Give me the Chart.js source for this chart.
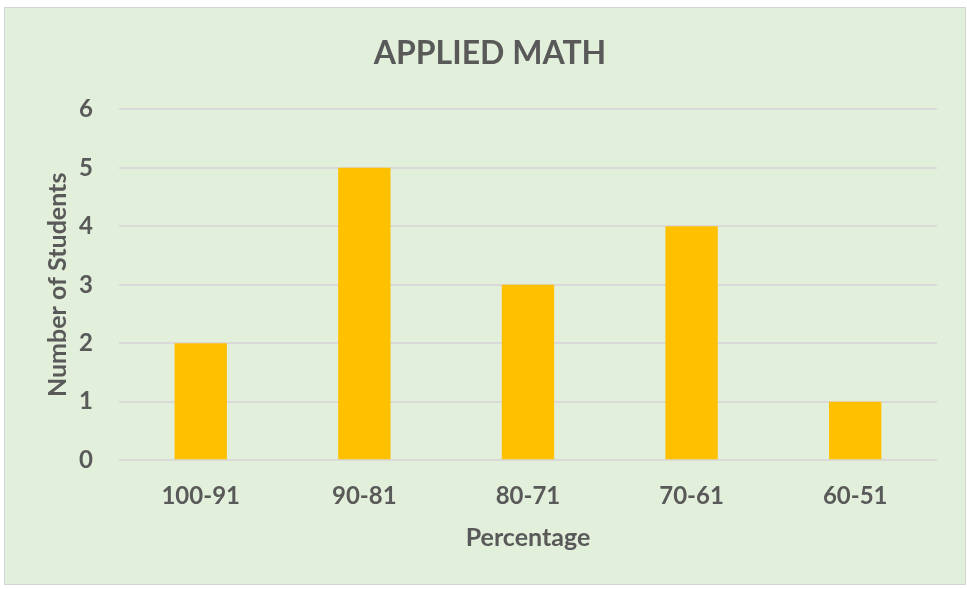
<!DOCTYPE html>
<html>
<head>
<meta charset="utf-8">
<script src="https://cdn.jsdelivr.net/npm/chart.js@4"></script>
<style>
  body { margin: 0; background: #fff; }
  #box { position: absolute; left: 4px; top: 7px; width: 960px; height: 576px;
         background: #E2EFDA; border: 1px solid #d4d4d4; }
</style>
</head>
<body>
<div id="box"><canvas id="canvas" width="960" height="576"></canvas></div>
<script>
var categories = ['100-91', '90-81', '80-71', '70-61', '60-51'];
var students = [2, 5, 3, 4, 1];
var yTicks = [0, 1, 2, 3, 4, 5, 6];

var font = "Lato, 'Open Sans', sans-serif";
var grey = '#595959';

var ctx = document.getElementById('canvas').getContext('2d');
var myChart = new Chart(ctx, {
    type: 'bar',
    data: {
        labels: categories,
        datasets: [{
            label: 'Number of Students',
            data: students,
            backgroundColor: '#FFC000',
            categoryPercentage: 1,
            barPercentage: 0.32
        }]
    },
    options: {
        responsive: false,
        animation: false,
        layout: { padding: { left: 38, right: 28, top: 12, bottom: 31 } },
        plugins: {
            legend: { display: false },
            tooltip: { enabled: false },
            title: {
                display: true,
                text: 'APPLIED MATH',
                color: grey,
                font: { family: font, size: 32, weight: 'bold' },
                padding: { top: 14, bottom: 37 }
            }
        },
        scales: {
            x: {
                grid: { display: false },
                border: { display: false },
                ticks: { color: grey, font: { family: font, size: 24, weight: 'bold' }, padding: 14 },
                title: {
                    display: true,
                    text: 'Percentage',
                    color: grey,
                    font: { family: font, size: 25, weight: 'bold' },
                    padding: { top: -2, bottom: 0 }
                }
            },
            y: {
                min: 0,
                max: 6,
                afterBuildTicks: function(axis) {
                    axis.ticks = yTicks.map(function(v) { return { value: v }; });
                },
                grid: { color: '#d9d9d9', lineWidth: 2, drawTicks: false },
                border: { display: false },
                ticks: { color: grey, font: { family: font, size: 24, weight: 'bold' }, padding: 26 },
                title: {
                    display: true,
                    text: 'Number of Students',
                    color: grey,
                    font: { family: font, size: 25, weight: 'bold' },
                    padding: { top: 0, bottom: -20 }
                }
            }
        }
    }
});
</script>
</body>
</html>
